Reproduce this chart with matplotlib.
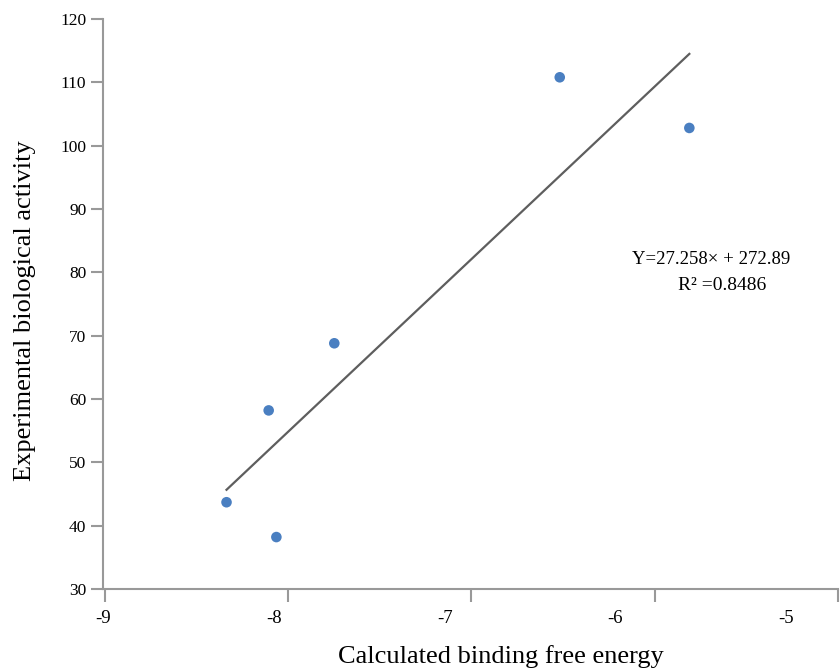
import matplotlib
matplotlib.use("Agg")
import matplotlib.pyplot as plt
import numpy as np

# data
binding_energy = [-8.336, -8.064, -8.106, -7.748, -6.518, -5.811]
activity = [43.7, 38.2, 58.2, 68.8, 110.8, 102.8]
slope, intercept = 27.258, 272.89
r2 = 0.8486
x_ticks = [-9, -8, -7, -6, -5]
y_ticks = [30, 40, 50, 60, 70, 80, 90, 100, 110, 120]
# in the reference the x tick labels drift left of their tick marks
label_stretch = 0.932

plt.rcParams["font.family"] = ["Liberation Serif", "DejaVu Serif"]

fig = plt.figure(figsize=(8.4, 6.7), dpi=100)
ax = fig.add_axes([0.1226, 0.1209, 0.875, 0.8507])

ax.scatter(binding_energy, activity, s=58, color="#4a7fc1", zorder=3,
           edgecolors="none")
xs = np.array([min(binding_energy), max(binding_energy)])
ax.plot(xs, slope * xs + intercept, color="#5e5e5e", lw=1.6, zorder=2)

ax.text(-5.691, 81.95, f"Y={slope}\u00d7 + {intercept}", ha="center",
        va="center", fontsize=13.5)
ax.text(-5.631, 78.0, f"R\u00b2 ={r2}", ha="center", va="center", fontsize=14)

ax.set_xlim(-9, -5)
ax.set_ylim(30, 120)

# tick marks at the integer positions, labels where the reference puts them
ax.set_xticks(x_ticks, minor=True)
ax.set_xticks([-9.01 + (t + 9) * label_stretch for t in x_ticks])
ax.set_xticklabels([str(t) for t in x_ticks])
ax.tick_params(axis="x", which="major", length=0, pad=15, labelsize=13.5)
ax.tick_params(axis="x", which="minor", length=9, width=1.5, color="#999999")

ax.set_yticks(y_ticks)
ax.tick_params(axis="y", labelsize=12.5, color="#999999", width=1.5,
               length=9, pad=3)

for side in ("top", "right"):
    ax.spines[side].set_visible(False)
for side in ("left", "bottom"):
    ax.spines[side].set_color("#999999")
    ax.spines[side].set_linewidth(1.5)

ax.set_xlabel("Calculated binding free energy", fontsize=19)
ax.xaxis.set_label_coords(0.541, -0.099)
ax.set_ylabel("Experimental biological activity", fontsize=19)
ax.yaxis.set_label_coords(-0.091, 0.488)

fig.savefig("out.png", dpi=100)
